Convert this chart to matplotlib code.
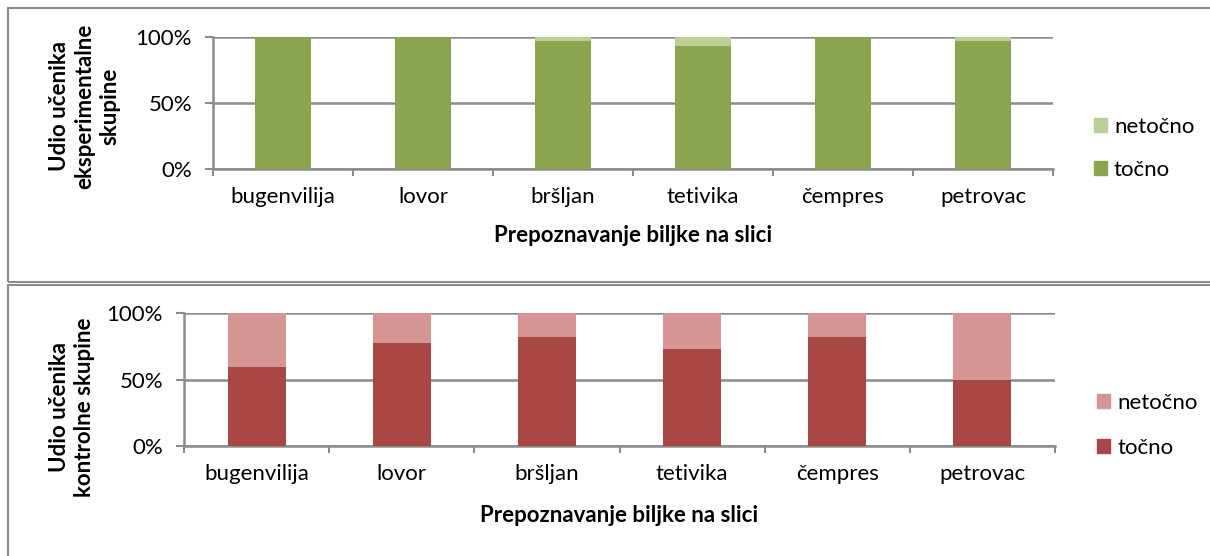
import matplotlib
matplotlib.use("Agg")
import matplotlib.pyplot as plt
from matplotlib.patches import Rectangle, Patch

categories = ["bugenvilija", "lovor", "bršljan", "tetivika", "čempres", "petrovac"]
exp_tocno = [100.0, 100.0, 96.7, 93.3, 100.0, 96.7]
exp_netocno = [0.0, 0.0, 3.3, 6.7, 0.0, 3.3]
ctrl_tocno = [59.1, 77.3, 81.8, 72.7, 81.8, 50.0]
ctrl_netocno = [40.9, 22.7, 18.2, 27.3, 18.2, 50.0]
yticks = [0, 50, 100]
ytick_labels = ["0%", "50%", "100%"]
series_names = ["točno", "netočno"]

plt.rcParams['font.family'] = ['Lato', 'DejaVu Sans']
W, H = 1210, 556
fig = plt.figure(figsize=(W / 100, H / 100), dpi=100)

def px(x0, y0, x1, y1):
    return [x0 / W, 1 - y1 / H, (x1 - x0) / W, (y1 - y0) / H]

grey = "#8c8c8c"
fs = 16

# panel borders
fig.patches.append(Rectangle((8 / W, 1 - 282 / H), 1.2, (282 - 8) / H, transform=fig.transFigure,
                             fill=False, edgecolor=grey, lw=1.5))
fig.patches.append(Rectangle((8 / W, -0.2), 1.2, 0.2 + (556 - 285) / H, transform=fig.transFigure,
                             fill=False, edgecolor=grey, lw=1.5))

def panel(rect, tocno, netocno, c_dark, c_light, ylabel, ylab_xy, xlab_xy, leg_xy, lsp):
    ax = fig.add_axes(rect)
    x = list(range(len(categories)))
    ax.bar(x, tocno, width=0.4, color=c_dark, label=series_names[0], zorder=3)
    ax.bar(x, netocno, width=0.4, bottom=tocno, color=c_light, label=series_names[1], zorder=3)
    ax.set_xlim(-0.5, len(categories) - 0.5)
    ax.set_ylim(0, 100)
    ax.set_yticks(yticks)
    ax.set_yticklabels(ytick_labels, fontsize=fs)
    ax.grid(axis='y', color=grey, lw=1.8, zorder=0)
    ax.set_xticks([i - 0.5 for i in range(len(categories) + 1)])
    ax.set_xticklabels([])
    ax.set_xticks(x, minor=True)
    ax.set_xticklabels(categories, minor=True, fontsize=fs)
    ax.tick_params(axis='x', which='minor', length=0, pad=13)
    ax.tick_params(axis='x', which='major', length=5, width=1.5, color=grey)
    ax.tick_params(axis='y', length=6, width=1.5, color=grey, pad=9)
    for s in ['top', 'right']:
        ax.spines[s].set_visible(False)
    for s in ['left', 'bottom']:
        ax.spines[s].set_color(grey)
        ax.spines[s].set_linewidth(1.8)
    fig.text(ylab_xy[0] / W, 1 - ylab_xy[1] / H, ylabel, rotation=90, ha='center', va='center',
             fontsize=fs, fontweight='bold', linespacing=1.25)
    fig.text(xlab_xy[0] / W, 1 - xlab_xy[1] / H, "Prepoznavanje biljke na slici", ha='center',
             va='center', fontsize=fs, fontweight='bold')
    handles = [Patch(color=c_light), Patch(color=c_dark)]
    fig.legend(handles, [series_names[1], series_names[0]], loc='upper left',
               bbox_to_anchor=(leg_xy[0] / W, 1 - leg_xy[1] / H), frameon=False, fontsize=fs,
               handlelength=0.6, handleheight=0.6, handletextpad=0.3, labelspacing=lsp,
               borderpad=0, borderaxespad=0)
    return ax

panel(px(213, 37, 1053, 169), exp_tocno, exp_netocno, "#8aa54e", "#b9cf96",
      "Udio učenika\neksperimentalne\nskupine", (85, 106), (633, 236), (1094, 117), 1.03)
panel(px(184, 313, 1055, 446), ctrl_tocno, ctrl_netocno, "#a94744", "#d49593",
      "Udio učenika\nkontrolne skupine", (72, 407), (619, 516), (1097, 393), 1.12)

fig.savefig("out.png", dpi=100)
